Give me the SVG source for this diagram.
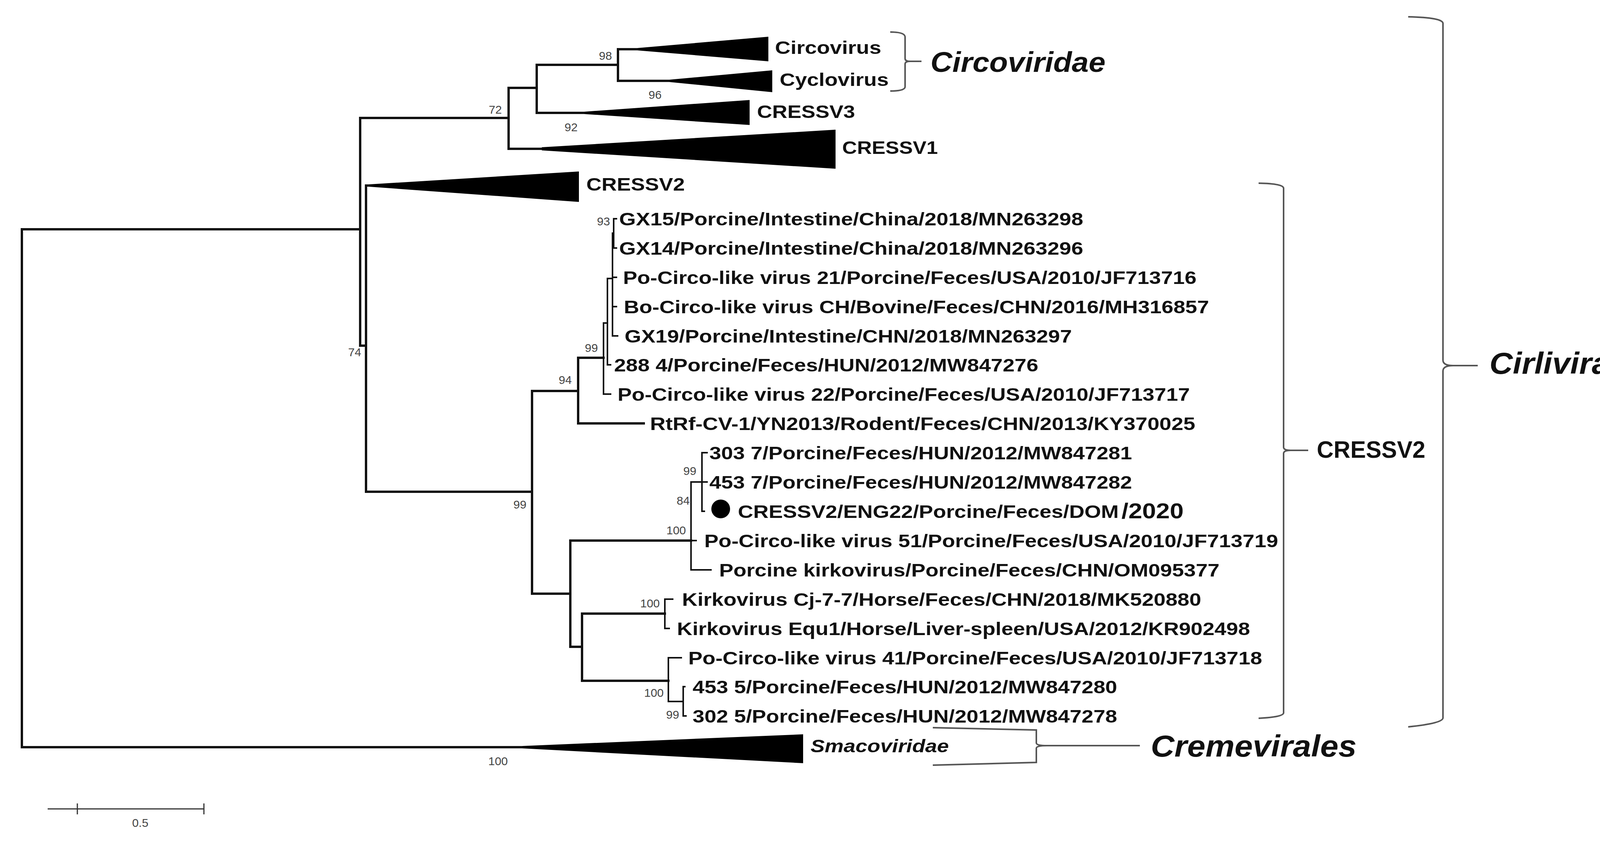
<svg xmlns="http://www.w3.org/2000/svg" width="4264" height="2166" viewBox="0 0 4264 2166">
<style>
.b{stroke:#111;stroke-width:6;fill:none;stroke-linecap:square}
.t{stroke:#111;stroke-width:4;fill:none}
.tri{fill:#000}
.lf{font-family:"Liberation Sans",Arial,sans-serif;font-weight:bold;font-size:46px;fill:#111}
.bs{font-family:"Liberation Sans",Arial,sans-serif;font-size:30px;fill:#444;text-anchor:middle}
.br{stroke:#555;stroke-width:4;fill:none}
.big{font-family:"Liberation Sans",Arial,sans-serif;font-weight:bold;font-style:italic;fill:#111}
</style>
<rect width="4264" height="2166" fill="#fff"/>
<g id="connectors">
<path class="b" d="M922,587H56V1913H1337"/>
<path class="b" d="M1302,302H922V885H937"/>
<path class="b" d="M1374,225H1302V381H1387"/>
<path class="b" d="M1582,166H1374V289H1496"/>
<path class="b" d="M1632,126H1582V207H1714"/>
<path class="b" d="M945,475H937V1259H1362"/>
<path class="b" d="M1480,1001H1362V1520H1460"/>
<path class="b" d="M1545,916H1480V1084H1648"/>
<path class="t" d="M1555,827H1545V1009H1565"/>
<path class="t" d="M1568,713H1555V934H1565"/>
<path class="t" d="M1571,597H1568V860H1583"/>
<path class="t" d="M1568,710H1580M1568,785H1580"/>
<path class="t" d="M1580,560H1571V635H1580"/>
<path class="b" d="M1769,1384H1460V1656H1490"/>
<path class="t" d="M1797,1234H1769V1459H1822M1769,1384H1784"/>
<path class="t" d="M1812,1159H1797V1309H1805M1797,1234H1812"/>
<path class="b" d="M1702,1571H1490V1743H1711"/>
<path class="t" d="M1724,1534H1702V1609H1715"/>
<path class="t" d="M1746,1684H1711V1796H1749"/>
<path class="t" d="M1755,1758H1749V1833H1758"/>
<path class="t" d="M122,2071H522M198,2057V2085M522,2057V2085" style="stroke:#333;stroke-width:3"/>
</g>
<g id="collapsed">
<polygon class="tri" points="1632,123 1967,94 1967,157 1632,129"/>
<polygon class="tri" points="1714,204 1977,180 1977,236 1714,210"/>
<polygon class="tri" points="1496,286 1919,256 1919,320 1496,292"/>
<polygon class="tri" points="1387,377 2139,332 2139,432 1387,385"/>
<polygon class="tri" points="945,472 1482,439 1482,517 945,478"/>
<polygon class="tri" points="1337,1910 2056,1880 2056,1954 1337,1916"/>
<circle cx="1845" cy="1303" r="24" fill="#000"/>
</g>
<g id="labels">
<text class="lf" x="1984" y="138" textLength="272" lengthAdjust="spacingAndGlyphs">Circovirus</text>
<text class="lf" x="1996" y="220" textLength="279" lengthAdjust="spacingAndGlyphs">Cyclovirus</text>
<text class="lf" x="1938" y="302" textLength="251" lengthAdjust="spacingAndGlyphs">CRESSV3</text>
<text class="lf" x="2156" y="394" textLength="245" lengthAdjust="spacingAndGlyphs">CRESSV1</text>
<text class="lf" x="1501" y="488" textLength="252" lengthAdjust="spacingAndGlyphs">CRESSV2</text>
<text class="lf" x="1585" y="577" textLength="1188" lengthAdjust="spacingAndGlyphs">GX15/Porcine/Intestine/China/2018/MN263298</text>
<text class="lf" x="1585" y="652" textLength="1188" lengthAdjust="spacingAndGlyphs">GX14/Porcine/Intestine/China/2018/MN263296</text>
<text class="lf" x="1595" y="727" textLength="1468" lengthAdjust="spacingAndGlyphs">Po-Circo-like virus 21/Porcine/Feces/USA/2010/JF713716</text>
<text class="lf" x="1597" y="802" textLength="1498" lengthAdjust="spacingAndGlyphs">Bo-Circo-like virus CH/Bovine/Feces/CHN/2016/MH316857</text>
<text class="lf" x="1599" y="877" textLength="1145" lengthAdjust="spacingAndGlyphs">GX19/Porcine/Intestine/CHN/2018/MN263297</text>
<text class="lf" x="1572" y="951" textLength="1086" lengthAdjust="spacingAndGlyphs">288 4/Porcine/Feces/HUN/2012/MW847276</text>
<text class="lf" x="1581" y="1026" textLength="1465" lengthAdjust="spacingAndGlyphs">Po-Circo-like virus 22/Porcine/Feces/USA/2010/JF713717</text>
<text class="lf" x="1664" y="1101" textLength="1396" lengthAdjust="spacingAndGlyphs">RtRf-CV-1/YN2013/Rodent/Feces/CHN/2013/KY370025</text>
<text class="lf" x="1816" y="1176" textLength="1082" lengthAdjust="spacingAndGlyphs">303 7/Porcine/Feces/HUN/2012/MW847281</text>
<text class="lf" x="1816" y="1251" textLength="1082" lengthAdjust="spacingAndGlyphs">453 7/Porcine/Feces/HUN/2012/MW847282</text>
<text class="lf" x="1889" y="1326" textLength="975" lengthAdjust="spacingAndGlyphs">CRESSV2/ENG22/Porcine/Feces/DOM</text>
<text class="lf" x="2871" y="1327" style="font-size:56px" textLength="159" lengthAdjust="spacingAndGlyphs">/2020</text>
<text class="lf" x="1803" y="1401" textLength="1469" lengthAdjust="spacingAndGlyphs">Po-Circo-like virus 51/Porcine/Feces/USA/2010/JF713719</text>
<text class="lf" x="1841" y="1476" textLength="1281" lengthAdjust="spacingAndGlyphs">Porcine kirkovirus/Porcine/Feces/CHN/OM095377</text>
<text class="lf" x="1746" y="1551" textLength="1329" lengthAdjust="spacingAndGlyphs">Kirkovirus Cj-7-7/Horse/Feces/CHN/2018/MK520880</text>
<text class="lf" x="1733" y="1626" textLength="1467" lengthAdjust="spacingAndGlyphs">Kirkovirus Equ1/Horse/Liver-spleen/USA/2012/KR902498</text>
<text class="lf" x="1762" y="1701" textLength="1469" lengthAdjust="spacingAndGlyphs">Po-Circo-like virus 41/Porcine/Feces/USA/2010/JF713718</text>
<text class="lf" x="1773" y="1775" textLength="1087" lengthAdjust="spacingAndGlyphs">453 5/Porcine/Feces/HUN/2012/MW847280</text>
<text class="lf" x="1773" y="1850" textLength="1087" lengthAdjust="spacingAndGlyphs">302 5/Porcine/Feces/HUN/2012/MW847278</text>
<text class="lf" x="2075" y="1926" style="font-style:italic" textLength="354" lengthAdjust="spacingAndGlyphs">Smacoviridae</text>
</g>
<g id="bootstrap">
<text class="bs" x="1550" y="153">98</text>
<text class="bs" x="1677" y="253">96</text>
<text class="bs" x="1462" y="336">92</text>
<text class="bs" x="1268" y="291">72</text>
<text class="bs" x="908" y="912">74</text>
<text class="bs" x="1545" y="577">93</text>
<text class="bs" x="1514" y="901">99</text>
<text class="bs" x="1447" y="983">94</text>
<text class="bs" x="1331" y="1302">99</text>
<text class="bs" x="1766" y="1216">99</text>
<text class="bs" x="1749" y="1292">84</text>
<text class="bs" x="1731" y="1368">100</text>
<text class="bs" x="1664" y="1555">100</text>
<text class="bs" x="1674" y="1784">100</text>
<text class="bs" x="1722" y="1840">99</text>
<text class="bs" x="1275" y="1959">100</text>
<text class="bs" x="359" y="2117">0.5</text>
</g>
<g id="groups">
<path class="br" d="M2279,82Q2317,82 2317,95V150Q2317,157 2330,157Q2317,157 2317,164V222Q2317,233 2279,233M2330,157H2359"/>
<text class="big" x="2382" y="184" font-size="72" textLength="448" lengthAdjust="spacingAndGlyphs">Circoviridae</text>
<path class="br" d="M3222,469Q3286,470 3286,482V1145Q3286,1153 3305,1153Q3286,1153 3286,1161V1825Q3286,1836 3222,1839M3305,1153H3349"/>
<text x="3371" y="1172" font-family="'Liberation Sans',Arial,sans-serif" font-weight="bold" font-size="62" fill="#111" textLength="278" lengthAdjust="spacingAndGlyphs">CRESSV2</text>
<path class="br" d="M3605,43Q3694,45 3694,60V922Q3694,936 3720,936Q3694,936 3694,950V1838Q3694,1852 3605,1861M3720,936H3783"/>
<text class="big" x="3813" y="957" font-size="78" textLength="423" lengthAdjust="spacingAndGlyphs">Cirlivirales</text>
<path class="br" d="M2388,1863L2653,1869V1902Q2653,1909 2680,1909Q2653,1909 2653,1916V1952L2388,1959M2680,1909H2918"/>
<text class="big" x="2946" y="1937" font-size="78" textLength="527" lengthAdjust="spacingAndGlyphs">Cremevirales</text>
</g>
</svg>
